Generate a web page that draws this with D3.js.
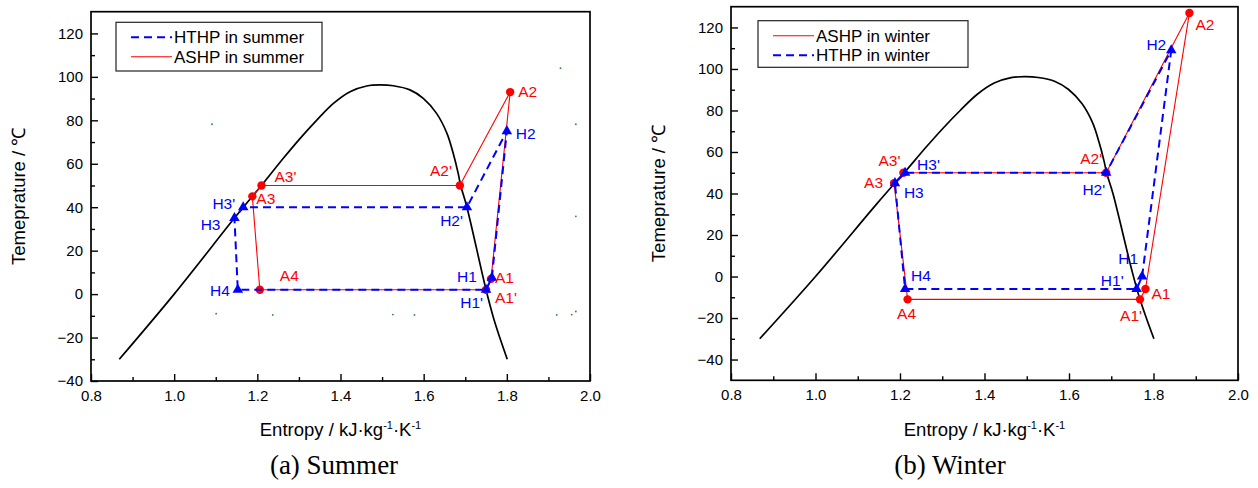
<!DOCTYPE html>
<html>
<head>
<meta charset="utf-8">
<script src="https://cdn.jsdelivr.net/npm/d3@7/dist/d3.min.js"></script>
<style>
  body { margin: 0; background: #fff; }
  svg text { font-family: Arial, 'Liberation Sans', sans-serif; }
  svg text.caption { font-family: 'Liberation Serif', 'Times New Roman', serif; }
</style>
</head>
<body>
<svg id="chart" width="1258" height="488"></svg>
<script>
// saturation dome (same refrigerant in both panels)
const domeS = [0.868, 1.0, 1.145, 1.188, 1.21, 1.2625, 1.303, 1.343, 1.383, 1.423, 1.463, 1.495,
  1.527, 1.567, 1.599, 1.631, 1.656, 1.671, 1.683, 1.689, 1.704, 1.75, 1.768, 1.783, 1.801];
const domeT = [-30, 0, 35, 45, 50, 62.5, 71.7, 80.1, 87.8, 93.2, 95.8, 96.3,
  95.9, 94, 90.1, 83.2, 74, 64.8, 55.6, 50, 40, 2, -11, -20, -30];

// (a) summer cycles
const ashpSummerNames = ['A1', 'A2', "A2'", "A3'", 'A3', 'A4', "A1'"];
const ashpSummerS = [1.762, 1.808, 1.687, 1.210, 1.188, 1.206, 1.750];
const ashpSummerT = [7, 93, 50, 50, 45, 2, 2];
const hthpSummerNames = ['H1', 'H2', "H2'", "H3'", 'H3', 'H4', "H1'"];
const hthpSummerS = [1.764, 1.800, 1.704, 1.166, 1.145, 1.153, 1.750];
const hthpSummerT = [7.6, 75, 40, 40, 35, 2, 2];

// (b) winter cycles
const ashpWinterNames = ['A1', 'A2', "A2'", "A3'", 'A3', 'A4', "A1'"];
const ashpWinterS = [1.781, 1.885, 1.688, 1.208, 1.186, 1.218, 1.768];
const ashpWinterT = [-6, 127, 50, 50, 45, -11, -11];
const hthpWinterNames = ['H1', 'H2', "H2'", "H3'", 'H3', 'H4', "H1'"];
const hthpWinterS = [1.773, 1.842, 1.688, 1.212, 1.188, 1.212, 1.760];
const hthpWinterT = [0, 109, 50, 50, 45, -6, -6];

// stray green specks in panel (a)
const specksS = [1.091, 1.929, 1.966, 1.966, 1.101, 1.237, 1.526, 1.578, 1.920, 1.956, 1.966];
const specksT = [78.2, 104, 78.2, 35.8, -9, -9.6, -9.4, -9.6, -9.6, -9.4, -8];

const xMajor = [0.8, 1.0, 1.2, 1.4, 1.6, 1.8, 2.0];
const xMinor = [0.9, 1.1, 1.3, 1.5, 1.7, 1.9];
const yMajor = [-40, -20, 0, 20, 40, 60, 80, 100, 120];
const yMinor = [-30, -10, 10, 30, 50, 70, 90, 110];

const RED = '#ff0000';
const BLUE = '#0000ff';

// label placement [dx, dy, anchor]
const summerLabelPos = {
  A1: [4, 4, 'start'], A2: [8, 5, 'start'], "A2'": [-8, -9, 'end'], "A3'": [13, -3, 'start'],
  A3: [4, 8, 'start'], A4: [20, -9, 'start'], "A1'": [9, 13, 'start'],
  H1: [-15, 4, 'end'], H2: [9, 8, 'start'], "H2'": [-4, 19, 'end'], "H3'": [-8, 2, 'end'],
  H3: [-14, 12, 'end'], H4: [-8, 6, 'end'], "H1'": [-3, 18, 'end'],
};
const winterLabelPos = {
  A1: [6, 10, 'start'], A2: [6, 17, 'start'], "A2'": [-4, -9, 'end'], "A3'": [-3, -7, 'end'],
  A3: [-11, 5, 'end'], A4: [-1, 20, 'middle'], "A1'": [2, 22, 'end'],
  H1: [-4, -13, 'end'], H2: [-5, 0, 'end'], "H2'": [-1, 22, 'end'], "H3'": [12, -3, 'start'],
  H3: [9, 15, 'start'], H4: [6, -8, 'start'], "H1'": [-13, -3, 'end'],
};

const svg = d3.select('#chart');

function cycle(names, s, t) {
  return names.map((n, i) => ({ name: n, s: s[i], t: t[i] }));
}

function drawPanel(p) {
  const x = d3.scaleLinear().domain([0.8, 2.0]).range([p.left, p.right]);
  const y = d3.scaleLinear().domain(p.tDomain).range([p.bottom, p.top]);
  const g = svg.append('g');

  // minor ticks
  g.append('g')
    .attr('transform', `translate(0,${p.bottom})`)
    .call(d3.axisBottom(x).tickValues(xMinor).tickSize(-4).tickFormat(''));
  g.append('g')
    .attr('transform', `translate(${p.left},0)`)
    .call(d3.axisLeft(y).tickValues(yMinor).tickSize(-4).tickFormat(''));

  // major ticks + labels
  const xAxis = g.append('g')
    .attr('transform', `translate(0,${p.bottom})`)
    .call(d3.axisBottom(x).tickValues(xMajor).tickSize(-7).tickPadding(9).tickFormat(d3.format('.1f')));
  const yAxis = g.append('g')
    .attr('transform', `translate(${p.left},0)`)
    .call(d3.axisLeft(y).tickValues(yMajor).tickSize(-7).tickPadding(8));
  [xAxis, yAxis].forEach((a) => {
    a.selectAll('text').attr('font-size', 15).attr('fill', '#000');
  });
  g.selectAll('.domain').remove();
  g.selectAll('.tick line').attr('stroke', '#000').attr('stroke-width', 1.4);

  // frame
  g.append('rect')
    .attr('x', p.left).attr('y', p.top)
    .attr('width', p.right - p.left).attr('height', p.bottom - p.top)
    .attr('fill', 'none').attr('stroke', '#000').attr('stroke-width', 1.7);

  // axis titles
  const xt = g.append('text')
    .attr('x', (p.left + p.right) / 2).attr('y', 436)
    .attr('text-anchor', 'middle').attr('font-size', 18.5);
  xt.append('tspan').text('Entropy / kJ·kg');
  xt.append('tspan').attr('dy', -7).attr('font-size', 11).text('-1');
  xt.append('tspan').attr('dy', 7).text('·K');
  xt.append('tspan').attr('dy', -7).attr('font-size', 11).text('-1');

  g.append('text')
    .attr('transform', `translate(${p.yTitleX},${(p.top + p.bottom) / 2}) rotate(-90)`)
    .attr('text-anchor', 'middle').attr('font-size', 18.5)
    .text('Temeprature / ℃');

  // caption
  g.append('text')
    .attr('class', 'caption')
    .attr('x', p.captionX).attr('y', 474)
    .attr('text-anchor', 'middle')
    .attr('font-size', 27)
    .text(p.caption);

  // stray specks
  if (p.specks) {
    g.append('g').selectAll('circle')
      .data(d3.range(specksS.length))
      .join('circle')
      .attr('cx', (i) => x(specksS[i])).attr('cy', (i) => y(specksT[i]))
      .attr('r', 0.9).attr('fill', '#2a8a2a');
  }

  // saturation dome
  const domePts = domeS.map((s, i) => [x(s), y(domeT[i])]);
  g.append('path')
    .attr('d', d3.line().curve(d3.curveCatmullRom.alpha(0.5))(domePts))
    .attr('fill', 'none').attr('stroke', '#000').attr('stroke-width', 1.7);

  const line = d3.line().x((d) => x(d.s)).y((d) => y(d.t));

  // ASHP (red, solid, circles)
  const a = p.ashp;
  g.append('path')
    .attr('d', line([...a, a[0]]))
    .attr('fill', 'none').attr('stroke', RED).attr('stroke-width', 1.1);
  g.append('g').selectAll('circle')
    .data(a)
    .join('circle')
    .attr('cx', (d) => x(d.s)).attr('cy', (d) => y(d.t))
    .attr('r', 4.2).attr('fill', RED);

  // HTHP (blue, dashed, triangles)
  const h = p.hthp;
  g.append('path')
    .attr('d', line([...h, h[0]]))
    .attr('fill', 'none').attr('stroke', BLUE).attr('stroke-width', 2)
    .attr('stroke-dasharray', '8,5');
  g.append('g').selectAll('path')
    .data(h)
    .join('path')
    .attr('transform', (d) => `translate(${x(d.s)},${y(d.t)})`)
    .attr('d', d3.symbol().type(d3.symbolTriangle).size(48))
    .attr('fill', BLUE);

  // point labels
  [[a, RED], [h, BLUE]].forEach(([pts, col]) => {
    g.append('g').selectAll('text')
      .data(pts)
      .join('text')
      .attr('x', (d) => x(d.s) + p.labelPos[d.name][0])
      .attr('y', (d) => y(d.t) + p.labelPos[d.name][1])
      .attr('text-anchor', (d) => p.labelPos[d.name][2])
      .attr('font-size', 15.5)
      .attr('fill', col)
      .text((d) => d.name);
  });

  // legend
  const lg = g.append('g');
  lg.append('rect')
    .attr('x', p.legend.x).attr('y', p.legend.y)
    .attr('width', p.legend.w).attr('height', p.legend.h)
    .attr('fill', '#fff').attr('stroke', '#222').attr('stroke-width', 1.2);
  p.legend.items.forEach((it, i) => {
    const ly = p.legend.y + 15 + i * 19.5;
    const l = lg.append('line')
      .attr('x1', p.legend.x + 15).attr('x2', p.legend.x + 56)
      .attr('y1', ly).attr('y2', ly);
    if (it.dashed) {
      l.attr('stroke', BLUE).attr('stroke-width', 2).attr('stroke-dasharray', '8,5');
    } else {
      l.attr('stroke', RED).attr('stroke-width', 1.1);
    }
    lg.append('text')
      .attr('x', p.legend.x + 58).attr('y', ly + 6)
      .attr('font-size', 17)
      .text(it.label);
  });
}

drawPanel({
  left: 91, right: 590, top: 11.7, bottom: 381,
  tDomain: [-40, 130],
  yTitleX: 25,
  caption: '(a) Summer', captionX: 334,
  specks: true,
  ashp: cycle(ashpSummerNames, ashpSummerS, ashpSummerT),
  hthp: cycle(hthpSummerNames, hthpSummerS, hthpSummerT),
  labelPos: summerLabelPos,
  legend: {
    x: 116, y: 22.3, w: 206, h: 48.7,
    items: [{ label: 'HTHP in summer', dashed: true }, { label: 'ASHP in summer', dashed: false }],
  },
});

drawPanel({
  left: 731, right: 1238, top: 6.7, bottom: 380.3,
  tDomain: [-50, 130],
  yTitleX: 665,
  caption: '(b) Winter', captionX: 950,
  specks: false,
  ashp: cycle(ashpWinterNames, ashpWinterS, ashpWinterT),
  hthp: cycle(hthpWinterNames, hthpWinterS, hthpWinterT),
  labelPos: winterLabelPos,
  legend: {
    x: 758, y: 20.7, w: 210, h: 46.6,
    items: [{ label: 'ASHP in winter', dashed: false }, { label: 'HTHP in winter', dashed: true }],
  },
});
</script>
</body>
</html>
